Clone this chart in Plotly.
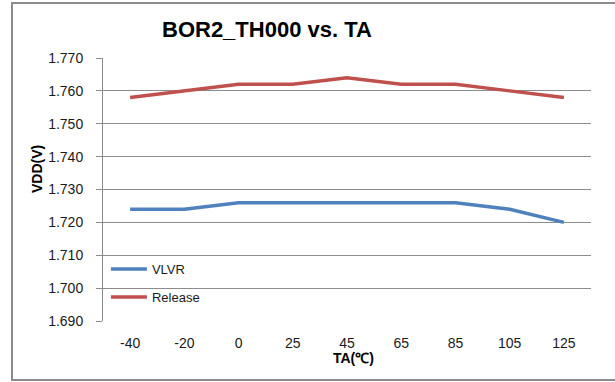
import plotly.graph_objects as go

categories = ["-40", "-20", "0", "25", "45", "65", "85", "105", "125"]
vlvr = [1.724, 1.724, 1.726, 1.726, 1.726, 1.726, 1.726, 1.724, 1.720]
release = [1.758, 1.760, 1.762, 1.762, 1.764, 1.762, 1.762, 1.760, 1.758]
y_ticks = [1.690, 1.700, 1.710, 1.720, 1.730, 1.740, 1.750, 1.760, 1.770]
y_tick_labels = ["%.3f" % v for v in y_ticks]

FONT = "Liberation Sans"
GRID = "#8c8c8c"

fig = go.Figure()
fig.add_trace(go.Scatter(x=categories, y=vlvr, mode="lines", name="VLVR",
                         legendgroup="a",
                         line=dict(color="#4F81BD", width=3.5)))
fig.add_trace(go.Scatter(x=categories, y=release, mode="lines", name="Release",
                         legendgroup="b",
                         line=dict(color="#C0504D", width=3.5)))

fig.update_layout(
    width=615, height=382,
    margin=dict(l=103, r=24, t=58, b=61),
    paper_bgcolor="white", plot_bgcolor="white",
    font=dict(family=FONT, size=14, color="#1a1a1a"),
    showlegend=True,
    legend=dict(x=0.006, y=0.034, xanchor="left", yanchor="bottom",
                bgcolor="rgba(0,0,0,0)", tracegroupgap=8,
                font=dict(family=FONT, size=13, color="#1a1a1a"),
                itemwidth=36),
    xaxis=dict(type="category", range=[-0.5, 8.5], showgrid=False,
               showline=False, ticks="", zeroline=False,
               tickfont=dict(family=FONT, size=14), ticklabelstandoff=12),
    yaxis=dict(range=[1.690, 1.770], tickvals=y_ticks, ticktext=y_tick_labels,
               showgrid=True, gridcolor=GRID, gridwidth=1,
               showline=True, linecolor=GRID, linewidth=1,
               ticks="outside", ticklen=6, tickcolor=GRID,
               ticklabelstandoff=10,
               zeroline=False, tickfont=dict(family=FONT, size=14)),
)

# outer chart border
fig.add_shape(type="rect", xref="paper", yref="paper",
              x0=-0.1865, x1=1.2, y0=-0.224, y1=1.209,
              line=dict(color="#8c8c8c", width=2), fillcolor="rgba(0,0,0,0)",
              layer="below")

# title
fig.add_annotation(text="<b>BOR2_TH000 vs. TA</b>", xref="paper", yref="paper",
                   x=(267 - 103) / 488, y=(321 - 30) / 263,
                   xanchor="center", yanchor="middle", showarrow=False,
                   font=dict(family=FONT, size=22, color="black"))
# y axis title
fig.add_annotation(text="<b>VDD(V)</b>", xref="paper", yref="paper",
                   x=(37 - 103) / 488, y=(321 - 169) / 263,
                   xanchor="center", yanchor="middle", showarrow=False,
                   textangle=-90,
                   font=dict(family=FONT, size=14, color="black"))
# x axis title
fig.add_annotation(text="<b>TA(℃)</b>", xref="paper", yref="paper",
                   x=(353 - 103) / 488, y=(321 - 358) / 263,
                   xanchor="center", yanchor="middle", showarrow=False,
                   font=dict(family=FONT, size=14, color="black"))

fig.write_html("out.html", config={"displayModeBar": False},
               post_script="document.body.style.margin='0';document.body.style.overflow='hidden';")
